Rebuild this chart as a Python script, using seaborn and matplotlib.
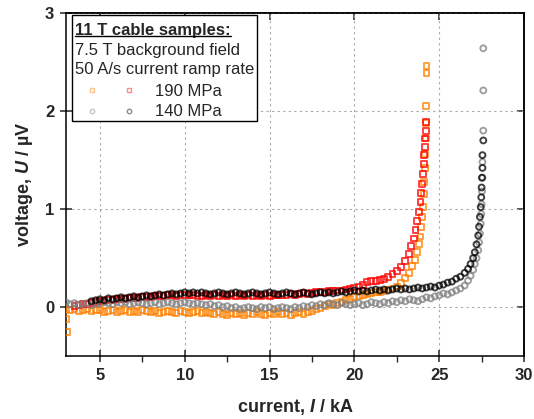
import matplotlib
matplotlib.use('Agg')
import matplotlib.pyplot as plt
import seaborn as sns
from matplotlib.ticker import MultipleLocator
from matplotlib.patches import Rectangle
from matplotlib.legend_handler import HandlerTuple
from matplotlib.lines import Line2D

# 190 MPa, sample 1 (orange squares)
i_190a = [3.0, 3.25, 3.5, 3.75, 4.0, 4.25, 4.5, 4.75, 5.0, 5.25, 5.5, 5.75, 6.0, 6.25, 6.5, 6.75,
          7.0, 7.25, 7.5, 7.75, 8.0, 8.25, 8.5, 8.75, 9.0, 9.25, 9.5, 9.75, 10.0, 10.25, 10.5, 10.75,
          11.0, 11.25, 11.5, 11.75, 12.0, 12.25, 12.5, 12.75, 13.0, 13.25, 13.5, 13.75, 14.0, 14.25,
          14.5, 14.75, 15.0, 15.25, 15.5, 15.75, 16.0, 16.25, 16.5, 16.75, 17.0, 17.25, 17.5, 17.75,
          18.0, 18.25, 18.5, 18.75, 19.0, 19.25, 19.5, 19.75, 20.0, 20.25, 20.5, 20.75, 21.0, 21.25,
          21.5, 21.75, 22.0, 22.25, 22.5, 22.75, 23.0, 23.2, 23.4, 23.55, 23.7, 23.8, 23.9, 23.95,
          24.0, 24.05, 24.1, 24.12, 24.15, 24.17, 24.2, 24.2, 24.22, 24.25, 24.25, 3.0, 3.05]
u_190a = [-0.02, -0.03, -0.02, -0.04, -0.03, -0.02, -0.04, -0.03, -0.03, -0.05, -0.04, -0.03, -0.05,
          -0.04, -0.03, -0.05, -0.04, -0.05, -0.03, -0.04, -0.05, -0.04, -0.06, -0.05, -0.04, -0.05,
          -0.06, -0.04, -0.05, -0.06, -0.05, -0.04, -0.06, -0.05, -0.06, -0.07, -0.05, -0.07, -0.08,
          -0.06, -0.07, -0.06, -0.08, -0.06, -0.07, -0.05, -0.07, -0.08, -0.06, -0.07, -0.05, -0.07,
          -0.06, -0.08, -0.06, -0.05, -0.07, -0.05, -0.04, -0.02, -0.01, 0.01, 0.03, 0.02, 0.04, 0.05,
          0.07, 0.08, 0.10, 0.11, 0.12, 0.13, 0.14, 0.15, 0.15, 0.16, 0.18, 0.19, 0.21, 0.25, 0.30,
          0.35, 0.42, 0.48, 0.56, 0.64, 0.72, 0.82, 0.92, 1.02, 1.15, 1.28, 1.42, 1.56, 1.72, 1.88,
          2.05, 2.39, 2.46, -0.12, -0.25]

# 190 MPa, sample 2 (red squares)
i_190b = [3.5, 3.75, 4.0, 4.25, 4.5, 4.75, 5.0, 5.25, 5.5, 5.75, 6.0, 6.25, 6.5, 6.75, 7.0, 7.25,
          7.5, 7.75, 8.0, 8.25, 8.5, 8.75, 9.0, 9.25, 9.5, 9.75, 10.0, 10.25, 10.5, 10.75, 11.0, 11.25,
          11.5, 11.75, 12.0, 12.25, 12.5, 12.75, 13.0, 13.25, 13.5, 13.75, 14.0, 14.25, 14.5, 14.75,
          15.0, 15.25, 15.5, 15.75, 16.0, 16.25, 16.5, 16.75, 17.0, 17.25, 17.5, 17.75, 18.0, 18.25,
          18.5, 18.75, 19.0, 19.25, 19.5, 19.75, 20.0, 20.25, 20.5, 20.75, 21.0, 21.25, 21.5, 21.75,
          22.0, 22.25, 22.5, 22.75, 23.0, 23.2, 23.35, 23.5, 23.6, 23.7, 23.8, 23.9, 23.95, 24.0,
          24.05, 24.1, 24.12, 24.15, 24.18, 24.2, 24.2]
u_190b = [0.01, 0.02, 0.03, 0.03, 0.04, 0.05, 0.06, 0.06, 0.07, 0.07, 0.08, 0.08, 0.08, 0.09, 0.09,
          0.09, 0.10, 0.10, 0.10, 0.11, 0.11, 0.11, 0.12, 0.12, 0.11, 0.12, 0.12, 0.12, 0.12, 0.11,
          0.11, 0.12, 0.11, 0.12, 0.11, 0.12, 0.11, 0.12, 0.11, 0.12, 0.11, 0.12, 0.11, 0.12, 0.11,
          0.12, 0.11, 0.12, 0.12, 0.12, 0.12, 0.13, 0.12, 0.13, 0.14, 0.13, 0.14, 0.15, 0.15, 0.15,
          0.16, 0.16, 0.17, 0.17, 0.18, 0.19, 0.20, 0.21, 0.23, 0.26, 0.27, 0.27, 0.28, 0.29, 0.31,
          0.34, 0.37, 0.41, 0.47, 0.54, 0.62, 0.70, 0.79, 0.88, 0.97, 1.07, 1.16, 1.26, 1.36, 1.46,
          1.55, 1.63, 1.72, 1.80, 1.89]

# 140 MPa, sample 1 (grey circles)
i_140a = [3.0, 3.25, 3.5, 3.75, 4.0, 4.25, 4.5, 4.75, 5.0, 5.25, 5.5, 5.75, 6.0, 6.25, 6.5, 6.75,
          7.0, 7.25, 7.5, 7.75, 8.0, 8.25, 8.5, 8.75, 9.0, 9.25, 9.5, 9.75, 10.0, 10.25, 10.5, 10.75,
          11.0, 11.25, 11.5, 11.75, 12.0, 12.25, 12.5, 12.75, 13.0, 13.25, 13.5, 13.75, 14.0, 14.25,
          14.5, 14.75, 15.0, 15.25, 15.5, 15.75, 16.0, 16.25, 16.5, 16.75, 17.0, 17.25, 17.5, 17.75,
          18.0, 18.25, 18.5, 18.75, 19.0, 19.25, 19.5, 19.75, 20.0, 20.25, 20.5, 20.75, 21.0, 21.25,
          21.5, 21.75, 22.0, 22.25, 22.5, 22.75, 23.0, 23.25, 23.5, 23.75, 24.0, 24.25, 24.5, 24.75,
          25.0, 25.25, 25.5, 25.75, 26.0, 26.25, 26.5, 26.7, 26.85, 27.0, 27.1, 27.2, 27.3, 27.35,
          27.4, 27.45, 27.48, 27.5, 27.52, 27.55, 27.55, 27.6, 27.6, 27.6]
u_140a = [0.05, 0.03, 0.04, 0.02, 0.03, 0.04, 0.02, 0.03, 0.04, 0.05, 0.04, 0.03, 0.05, 0.04, 0.05,
          0.03, 0.04, 0.05, 0.04, 0.03, 0.04, 0.05, 0.03, 0.04, 0.05, 0.04, 0.03, 0.04, 0.05, 0.04,
          0.03, 0.04, 0.03, 0.02, 0.03, 0.01, 0.02, 0.00, 0.01, -0.01, 0.00, -0.02, -0.01, 0.00,
          -0.01, -0.02, 0.00, -0.01, 0.00, -0.02, -0.01, 0.00, -0.01, -0.02, 0.00, -0.01, 0.01, 0.00,
          0.02, 0.01, 0.03, 0.02, 0.04, 0.03, 0.02, 0.04, 0.03, 0.02, 0.03, 0.04, 0.02, 0.03, 0.05,
          0.04, 0.03, 0.05, 0.04, 0.06, 0.05, 0.07, 0.06, 0.08, 0.07, 0.06, 0.08, 0.10, 0.09, 0.11,
          0.12, 0.14, 0.13, 0.15, 0.17, 0.19, 0.22, 0.27, 0.32, 0.38, 0.44, 0.50, 0.58, 0.66, 0.75,
          0.85, 0.95, 1.05, 1.18, 1.32, 1.48, 1.80, 2.21, 2.64]

# 140 MPa, sample 2 (black circles)
i_140b = [4.5, 4.75, 5.0, 5.25, 5.5, 5.75, 6.0, 6.25, 6.5, 6.75, 7.0, 7.25, 7.5, 7.75, 8.0, 8.25,
          8.5, 8.75, 9.0, 9.25, 9.5, 9.75, 10.0, 10.25, 10.5, 10.75, 11.0, 11.25, 11.5, 11.75, 12.0,
          12.25, 12.5, 12.75, 13.0, 13.25, 13.5, 13.75, 14.0, 14.25, 14.5, 14.75, 15.0, 15.25, 15.5,
          15.75, 16.0, 16.25, 16.5, 16.75, 17.0, 17.25, 17.5, 17.75, 18.0, 18.25, 18.5, 18.75, 19.0,
          19.25, 19.5, 19.75, 20.0, 20.25, 20.5, 20.75, 21.0, 21.25, 21.5, 21.75, 22.0, 22.25, 22.5,
          22.75, 23.0, 23.25, 23.5, 23.75, 24.0, 24.25, 24.5, 24.75, 25.0, 25.25, 25.5, 25.75, 26.0,
          26.25, 26.5, 26.7, 26.85, 27.0, 27.1, 27.2, 27.3, 27.35, 27.4, 27.45, 27.48, 27.5, 27.52,
          27.55, 27.55, 27.6]
u_140b = [0.06, 0.07, 0.08, 0.07, 0.09, 0.08, 0.09, 0.10, 0.09, 0.10, 0.11, 0.10, 0.11, 0.12, 0.11,
          0.12, 0.13, 0.12, 0.13, 0.14, 0.13, 0.14, 0.15, 0.14, 0.15, 0.14, 0.15, 0.14, 0.13, 0.14,
          0.15, 0.14, 0.13, 0.14, 0.15, 0.14, 0.13, 0.14, 0.15, 0.14, 0.13, 0.14, 0.15, 0.14, 0.13,
          0.14, 0.15, 0.14, 0.13, 0.14, 0.15, 0.14, 0.13, 0.14, 0.15, 0.14, 0.15, 0.14, 0.15, 0.16,
          0.15, 0.16, 0.17, 0.16, 0.17, 0.16, 0.17, 0.18, 0.17, 0.18, 0.17, 0.18, 0.19, 0.18, 0.19,
          0.18, 0.19, 0.20, 0.19, 0.20, 0.21, 0.20, 0.22, 0.23, 0.25, 0.26, 0.29, 0.31, 0.35, 0.39,
          0.44, 0.50, 0.56, 0.64, 0.73, 0.82, 0.92, 1.02, 1.12, 1.22, 1.32, 1.42, 1.55, 1.70]

series = [
    (i_190a, u_190a, 's', '#ff8000'),
    (i_190b, u_190b, 's', '#ff0000'),
    (i_140a, u_140a, 'o', '#808080'),
    (i_140b, u_140b, 'o', '#000000'),
]

sns.set_theme(style='white')
plt.rcParams['font.family'] = ['Liberation Sans', 'DejaVu Sans']
plt.rcParams['mathtext.fontset'] = 'custom'
plt.rcParams['mathtext.it'] = 'Liberation Sans:italic:bold'
plt.rcParams['mathtext.rm'] = 'Liberation Sans:bold'

fig, ax = plt.subplots(figsize=(5.34, 4.19), dpi=100)
fig.subplots_adjust(left=0.1236, right=0.9813, top=0.969, bottom=0.150)

for x, y, m, c in series:
    sns.scatterplot(x=x, y=y, marker=m, s=18, facecolor='none', edgecolor=c,
                    linewidth=1.4, alpha=0.75, ax=ax, zorder=3)

ax.set_xlim(3, 30)
ax.set_ylim(-0.5, 3)
ax.set_xticks([5, 10, 15, 20, 25, 30])
ax.set_yticks([0, 1, 2, 3])
ax.xaxis.set_minor_locator(MultipleLocator(2.5))
ax.grid(True, which='major', linestyle=(0, (2, 3)), color='#a8a8a8', linewidth=0.8)
ax.tick_params(which='major', direction='inout', length=9, width=1.1, labelsize=12, pad=4,
               top=False, right=False, bottom=True, left=True)
ax.tick_params(which='minor', axis='x', direction='out', length=4, width=1.0, top=False, bottom=True)
for lab in ax.get_xticklabels() + ax.get_yticklabels():
    lab.set_fontweight('bold')
for sp in ax.spines.values():
    sp.set_linewidth(1.1)
    sp.set_color('black')

# inward ticks on top and right
top = ax.secondary_xaxis('top')
top.set_xticks([5, 10, 15, 20, 25, 30])
top.tick_params(direction='in', length=5, width=1.1, labeltop=False)
right = ax.secondary_yaxis('right')
right.set_yticks([0, 1, 2, 3])
right.tick_params(direction='in', length=5, width=1.1, labelright=False)
for s in (top, right):
    for sp in s.spines.values():
        sp.set_linewidth(1.1)
        sp.set_color('black')

ax.set_xlabel('current, $I$ / kA', fontsize=13, fontweight='bold', labelpad=10)
ax.set_ylabel('voltage, $U$ / µV', fontsize=13, fontweight='bold', labelpad=7)

# legend box
ax.add_patch(Rectangle((0.013, 0.685), 0.404, 0.309, transform=ax.transAxes,
                       facecolor='white', edgecolor='black', linewidth=1.0, zorder=5))
title = ax.text(0.0197, 0.950, '11 T cable samples:', transform=ax.transAxes, fontsize=12,
                fontweight='bold', va='center', ha='left', zorder=6)
ax.text(0.0197, 0.892, '7.5 T background field', transform=ax.transAxes, fontsize=12,
        va='center', ha='left', zorder=6)
ax.text(0.0197, 0.834, '50 A/s current ramp rate', transform=ax.transAxes, fontsize=12,
        va='center', ha='left', zorder=6)

def proxy(m, c):
    return Line2D([], [], linestyle='none', marker=m, markersize=3.2, markerfacecolor='none',
                  markeredgecolor=c, markeredgewidth=1.0, alpha=0.45)

handles = [(proxy('s', '#ff8000'), proxy('s', '#ff0000')),
           (proxy('o', '#808080'), proxy('o', '#000000'))]
leg = ax.legend(handles=handles, labels=['190 MPa', '140 MPa'],
                handler_map={tuple: HandlerTuple(ndivide=None, pad=0)},
                loc='upper left', bbox_to_anchor=(0.015, 0.793), frameon=False, fontsize=12,
                handlelength=4.5, handletextpad=0.4, labelspacing=0.32, borderpad=0,
                borderaxespad=0, numpoints=1)
leg.set_zorder(7)

# underline the box title
fig.canvas.draw()
bb = title.get_window_extent().transformed(fig.transFigure.inverted())
fig.add_artist(Line2D([bb.x0, bb.x1], [bb.y0 + 0.004, bb.y0 + 0.004], color='black',
                      linewidth=1.0, transform=fig.transFigure, zorder=10))

fig.savefig('out.png', dpi=100)
